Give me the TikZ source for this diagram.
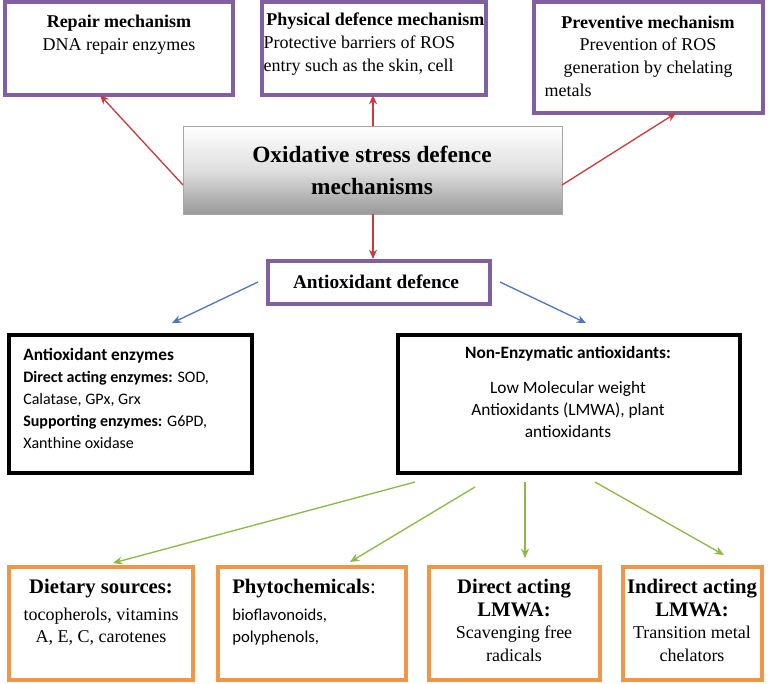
\documentclass[tikz,border=0pt]{standalone}
\usepackage{fontspec}
\setmainfont{Liberation Serif}
\newfontfamily\carl{Carlito}
\usetikzlibrary{arrows.meta}
\definecolor{pur}{RGB}{128,96,160}
\definecolor{orn}{RGB}{240,150,70}
\definecolor{redA}{RGB}{200,60,60}
\definecolor{bluA}{RGB}{80,120,190}
\definecolor{grnA}{RGB}{140,185,70}
\begin{document}
\begin{tikzpicture}[x=0.75pt,y=-0.75pt,
 pbox/.style={draw=pur,line width=2.8pt},
 kbox/.style={draw=black,line width=2.8pt},
 obox/.style={draw=orn,line width=2.8pt},
 txt/.style={align=center,font=\fontsize{13.5}{17}\selectfont,inner sep=0},
 ctxt/.style={align=left,font=\carl\fontsize{12}{16.5}\selectfont,inner sep=0},
 ra/.style={draw=redA,line width=1pt,-{Stealth[length=7pt,width=6pt]}},
 ba/.style={draw=bluA,line width=1pt,-{Stealth[length=7pt,width=6pt]}},
 ga/.style={draw=grnA,line width=1pt,-{Stealth[length=7pt,width=6pt]}}]
\useasboundingbox (0,0) rectangle (768,683);
% top boxes
\draw[pbox] (5,2) rectangle (233,95);
\coordinate (repS) at (100,95);
\node[txt] (rept) at (119,35) {\textbf{Repair mechanism}\\DNA repair enzymes};
\draw[pbox] (262,2) rectangle (486,95);
\coordinate (phyS) at (373,95);
\node[txt,align=left] (phyt) at (374,44) {\hspace*{2pt}\textbf{Physical defence mechanism}\\Protective barriers of ROS\\entry such as the skin, cell};
\draw[pbox] (534,2) rectangle (763,113);
\coordinate (preS) at (676,113);
\node[txt] (pret) at (648,56) {\textbf{Preventive mechanism}\\Prevention of ROS\\generation by chelating\\\hspace*{-120pt}metals};
% central
\shade[top color=white,bottom color=gray!80,middle color=gray!25,draw=gray!70] (183,126) rectangle (562,214);
\node[txt,font=\fontsize{17.5}{24}\selectfont\bfseries] (ox) at (372,170) {Oxidative stress defence\\mechanisms};
\coordinate (oxL) at (183,185);
\coordinate (oxR) at (562,185);
\coordinate (oxT) at (373,126);
\coordinate (oxB) at (373,214);
\draw[ra] (oxL) -- (repS);
\draw[ra] (oxT) -- (phyS);
\draw[ra] (oxR) -- (preS);
% antioxidant defence
\draw[pbox] (268,261) rectangle (490,304);
\node[txt,font=\fontsize{14.5}{17}\selectfont\bfseries] (ad) at (376,282) {Antioxidant defence};
\coordinate (adT) at (373,259);
\draw[ra] (oxB) -- (adT);
\coordinate (adL) at (258,282);
\coordinate (adR) at (500,282);
\draw[kbox] (9,335) rectangle (252,473);
\draw[kbox] (398,335) rectangle (740,473);
\coordinate (aeT) at (172,323);
\coordinate (neT) at (586,323);
\draw[ba] (adL) -- (aeT);
\draw[ba] (adR) -- (neT);
\node[ctxt,anchor=north west] (aet) at (23,348) {\textbf{\fontsize{13}{16.5}\selectfont Antioxidant enzymes}\\\textbf{Direct acting enzymes:} SOD,\\Calatase, GPx, Grx\\\textbf{Supporting enzymes:} G6PD,\\Xanthine oxidase};
\node[ctxt,align=center,anchor=north] (net) at (568,346) {\textbf{\fontsize{13}{16.5}\selectfont Non-Enzymatic antioxidants:}\\[10pt]\fontsize{13}{16.5}\selectfont Low Molecular weight\\\fontsize{13}{16.5}\selectfont Antioxidants (LMWA), plant\\\fontsize{13}{16.5}\selectfont antioxidants};
% bottom boxes
\draw[obox] (9,567) rectangle (193,680);
\draw[obox] (218,567) rectangle (406,680);
\draw[obox] (429,567) rectangle (600,680);
\draw[obox] (623,567) rectangle (762,680);
\node[txt,anchor=north] (d1) at (101,579) {\fontsize{15.5}{19}\selectfont\textbf{Dietary sources:}\\[3pt]\fontsize{13.5}{19}\selectfont tocopherols, vitamins\\A, E, C, carotenes};
\node[txt,anchor=north west,align=left] (d2) at (232,579) {\fontsize{15.5}{19}\selectfont\textbf{Phytochemicals}:\\[3pt]\carl\fontsize{12.5}{18}\selectfont bioflavonoids,\\\carl\fontsize{12.5}{18}\selectfont polyphenols,};
\node[txt,anchor=north] (d3) at (514,579) {\fontsize{15.5}{19}\selectfont\textbf{Direct acting}\\\fontsize{15.5}{19}\selectfont\textbf{LMWA:}\\\fontsize{13.5}{17}\selectfont Scavenging free\\radicals};
\node[txt,anchor=north] (d4) at (692,579) {\fontsize{15.5}{19}\selectfont\textbf{Indirect acting}\\\fontsize{15.5}{19}\selectfont\textbf{LMWA:}\\\fontsize{13.5}{17}\selectfont Transition metal\\chelators};
\coordinate (n1) at (415,482); \coordinate (t1) at (113,563);
\coordinate (n2) at (475,487); \coordinate (t2) at (350,562);
\coordinate (n3) at (525,482); \coordinate (t3) at (525,558);
\coordinate (n4) at (595,482); \coordinate (t4) at (724,555);
\draw[ga] (n1) -- (t1);
\draw[ga] (n2) -- (t2);
\draw[ga] (n3) -- (t3);
\draw[ga] (n4) -- (t4);
\end{tikzpicture}
\end{document}
